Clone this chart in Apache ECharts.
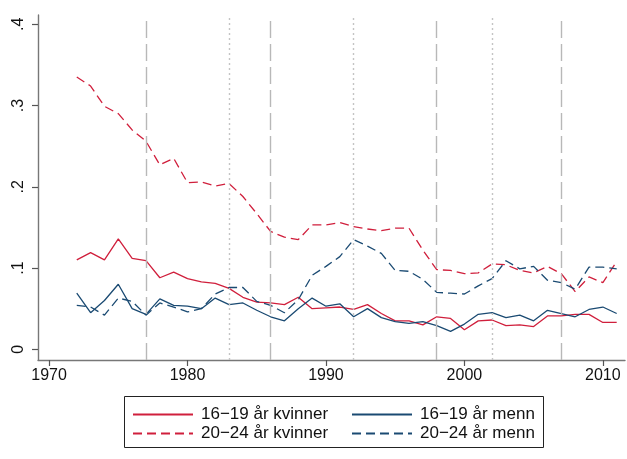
<!DOCTYPE html>
<html>
<head>
<meta charset="utf-8">
<script src="https://cdn.jsdelivr.net/npm/echarts@6/dist/echarts.min.js"></script>
<style>html,body{margin:0;padding:0;background:#fff;}#c{width:627px;height:459px;}</style>
</head>
<body>
<div id="c"></div>
<script>
const years = [1972,1973,1974,1975,1976,1977,1978,1979,1980,1981,1982,1983,1984,1985,1986,1987,1988,1989,1990,1991,1992,1993,1994,1995,1996,1997,1998,1999,2000,2001,2002,2003,2004,2005,2006,2007,2008,2009,2010,2011];
const kvinner1619 = [0.110,0.119,0.110,0.136,0.112,0.109,0.088,0.095,0.087,0.083,0.081,0.075,0.064,0.058,0.057,0.055,0.064,0.050,0.051,0.052,0.049,0.055,0.044,0.035,0.035,0.030,0.040,0.038,0.024,0.035,0.036,0.029,0.030,0.028,0.041,0.041,0.043,0.043,0.033,0.033];
const menn1619 = [0.069,0.045,0.060,0.080,0.050,0.043,0.062,0.054,0.053,0.050,0.063,0.055,0.057,0.048,0.040,0.035,0.050,0.063,0.053,0.056,0.040,0.050,0.039,0.034,0.032,0.034,0.029,0.022,0.031,0.043,0.045,0.039,0.042,0.035,0.048,0.044,0.040,0.049,0.052,0.044];
const kvinner2024 = [0.335,0.324,0.299,0.290,0.270,0.256,0.227,0.235,0.205,0.206,0.201,0.204,0.188,0.167,0.145,0.138,0.135,0.153,0.153,0.156,0.151,0.148,0.146,0.149,0.149,0.122,0.098,0.097,0.093,0.094,0.105,0.104,0.097,0.094,0.102,0.093,0.071,0.089,0.082,0.108];
const menn2024 = [0.054,0.052,0.042,0.063,0.059,0.042,0.057,0.052,0.046,0.050,0.068,0.076,0.076,0.059,0.054,0.045,0.061,0.091,0.102,0.114,0.135,0.127,0.118,0.097,0.096,0.086,0.070,0.069,0.068,0.078,0.087,0.109,0.099,0.102,0.085,0.082,0.074,0.101,0.101,0.099];
const xTicks = [1970,1980,1990,2000,2010];
const yTicks = [0,0.1,0.2,0.3,0.4];
const dashedYears = [1977,1986,1998,2007];
const dottedYears = [1983,1992,2002];

const RED = '#d01f3c', BLUE = '#1a4a72';
const pairs = arr => years.map((y,i)=>[y,arr[i]]);
const chart = echarts.init(document.getElementById('c'));
const font = 'Liberation Sans, Arial, sans-serif';
function mkSeries(name, arr, color, dashed){
  return {name, type:'line', data:pairs(arr), symbol:'none', showSymbol:false, z:3,
    lineStyle:{color, width:1.3, type: dashed ? [9,5] : 'solid'}, itemStyle:{color}};
}
const refLines = {type:'line', data:[], z:1, silent:true,
  markLine:{symbol:'none', silent:true, label:{show:false},
    data: dashedYears.map(y=>({xAxis:y, lineStyle:{type:[17,6], color:'#b8b8b8', width:1.4}}))
      .concat(dottedYears.map(y=>({xAxis:y, lineStyle:{type:[2,3], color:'#c4c4c4', width:1.4}})))
  }};
function leg(name, left, top){
  return {data:[name], left, top, padding:0, itemWidth:60, itemHeight:12, itemGap:0,
    itemStyle:{opacity:0},
    textStyle:{fontFamily:font, fontSize:17, color:'#111', padding:[0,0,0,3]}, selectedMode:false};
}
chart.setOption({
  backgroundColor:'#fff',
  animation:false,
  grid:{left:38, right:2, top:15, bottom:99, containLabel:false},
  xAxis:{type:'value', min:1969.2, max:2011.6,
    axisLine:{show:true, onZero:false, lineStyle:{color:'#777', width:1.4}},
    axisTick:{show:true, customValues:xTicks, length:6, lineStyle:{color:'#555', width:1.2}},
    axisLabel:{customValues:xTicks, fontFamily:font, fontSize:16, color:'#111', margin:8,
      formatter: v => String(Math.round(v))},
    splitLine:{show:false}},
  yAxis:{type:'value', min:-0.0132, max:0.4114,
    axisLine:{show:true, onZero:false, lineStyle:{color:'#777', width:1.4}},
    axisTick:{show:true, customValues:yTicks, length:6, lineStyle:{color:'#555', width:1.2}},
    axisLabel:{customValues:yTicks, rotate:90, fontFamily:font, fontSize:16, color:'#111', margin:11,
      formatter: v => v===0 ? '0' : String(Math.round(v*10)/10).replace(/^0/,'')},
    splitLine:{show:false}},
  legend:[
    leg('16−19 år kvinner',132,406),
    leg('16−19 år menn',351,406),
    leg('20−24 år kvinner',132,425),
    leg('20−24 år menn',351,425)
  ],
  graphic:[{type:'rect', shape:{x:124.5,y:396.5,width:419,height:51}, style:{fill:'none', stroke:'#222', lineWidth:1}, z:-1}],
  series:[
    refLines,
    mkSeries('16−19 år kvinner', kvinner1619, RED, false),
    mkSeries('16−19 år menn', menn1619, BLUE, false),
    mkSeries('20−24 år kvinner', kvinner2024, RED, true),
    mkSeries('20−24 år menn', menn2024, BLUE, true)
  ]
});
</script>
</body>
</html>
